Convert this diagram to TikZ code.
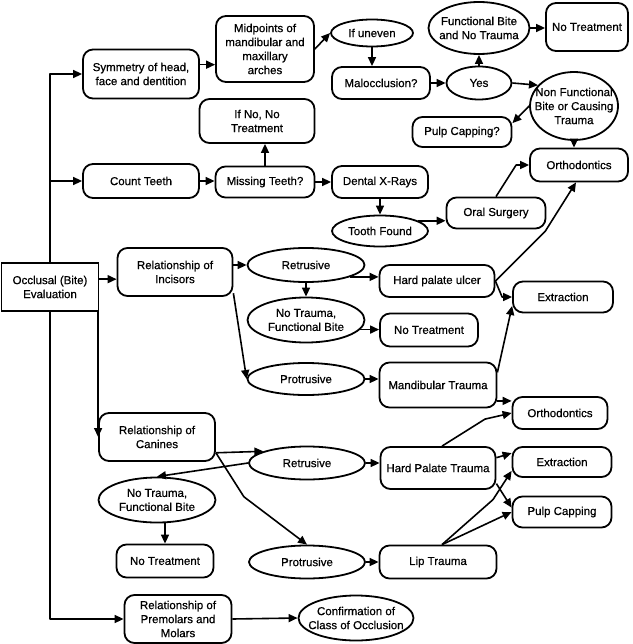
\documentclass[tikz,border=0pt]{standalone}
\usepackage{fontspec}
\setmainfont[FakeBold=0.6]{Liberation Sans}
\usetikzlibrary{arrows.meta,shapes.geometric}
\begin{document}
\begin{tikzpicture}[x=1pt,y=-1pt,
		box/.style={draw,line width=1.8pt,rounded corners=10pt,align=center,inner sep=0pt,font=\fontsize{11.5}{14}\selectfont},
		sq/.style={box,sharp corners},
		oval/.style={draw,ellipse,line width=1.8pt,align=center,inner xsep=-10pt,inner ysep=0pt,font=\fontsize{11.5}{14}\selectfont},
		dims/.style 2 args={minimum width=#1pt,minimum height=#2pt},
		conn/.style={line width=1.6pt,line join=round,-{Triangle[length=9pt,width=8pt]}}]
		\useasboundingbox (0,0) rectangle (632,644);

		\node[sq,dims={97}{48}] (main) at (50,287) {Occlusal (Bite)\\Evaluation};
		\node[box,dims={116}{49}] (sym) at (141,74) {Symmetry of head,\\face and dentition};
		\node[box,dims={98}{66}] (mid) at (265,49) {Midpoints of\\mandibular and\\maxillary\\arches};
		\node[oval,dims={82}{27}] (uneven) at (372,33) {If uneven};
		\node[box,dims={98}{32}] (maloc) at (381,83) {Malocclusion?};
		\node[oval,dims={65}{33}] (yes) at (479,83) {Yes};
		\node[oval,dims={101}{52}] (funct) at (479,28) {Functional Bite\\and No Trauma};
		\node[box,dims={82}{48}] (notreatA) at (587,27) {No Treatment};
		\node[oval,dims={88}{68}] (nonfunc) at (574,106) {Non Functional\\Bite or Causing\\Trauma};
		\node[box,dims={99}{30}] (pulpq) at (462,132) {Pulp Capping?};
		\node[box,dims={98}{33}] (orthoA) at (579,165) {Orthodontics};
		\node[box,dims={115}{44}] (ifno) at (257,121) {If No, No\\Treatment};
		\node[box,dims={116}{34}] (count) at (141,181) {Count Teeth};
		\node[box,dims={99}{31}] (missing) at (265,182) {Missing Teeth?};
		\node[box,dims={96}{32}] (xray) at (380,182) {Dental X-Rays};
		\node[oval,dims={96}{31}] (tooth) at (380,231) {Tooth Found};
		\node[box,dims={99}{31}] (oral) at (496,213) {Oral Surgery};

		\node[box,dims={115}{48}] (incis) at (175,272) {Relationship of\\Incisors};
		\node[oval,dims={117}{34}] (retA) at (306,265) {Retrusive};
		\node[box,dims={115}{32}] (ulcer) at (437,281) {Hard palate ulcer};
		\node[oval,dims={117}{45}] (notraumaA) at (306,320) {No Trauma,\\Functional Bite};
		\node[box,dims={98}{33}] (notreatB) at (429,330) {No Treatment};
		\node[box,dims={100}{31}] (extrA) at (563,297) {Extraction};
		\node[oval,dims={117}{32}] (protA) at (306,379) {Protrusive};
		\node[box,dims={117}{45}] (mandib) at (438,385) {Mandibular Trauma};
		\node[box,dims={95}{32}] (orthoB) at (560,413) {Orthodontics};

		\node[box,dims={116}{48}] (canin) at (157,437) {Relationship of\\Canines};
		\node[oval,dims={116}{33}] (retB) at (307,463) {Retrusive};
		\node[box,dims={115}{42}] (hpt) at (438,468) {Hard Palate Trauma};
		\node[box,dims={99}{30}] (extrB) at (562,462) {Extraction};
		\node[box,dims={99}{31}] (pulp) at (562,512) {Pulp Capping};
		\node[oval,dims={117}{45}] (notraumaB) at (157,500) {No Trauma,\\Functional Bite};
		\node[box,dims={97}{33}] (notreatC) at (165,561) {No Treatment};
		\node[oval,dims={116}{33}] (protB) at (307,562) {Protrusive};
		\node[box,dims={117}{33}] (lip) at (438,562) {Lip Trauma};
		\node[box,dims={107}{48}] (premol) at (178,619) {Relationship of\\Premolars and\\Molars};
		\node[oval,dims={115}{45}] (confirm) at (356,618) {Confirmation of\\Class of Occlusion};

		\draw[conn] (main.north) |- (sym.west);
		\draw[conn] (main.north |- count.west) -- (count.west);
		\draw[conn] (main.south) |- (premol.west);
		\draw[conn] (main.9) -- (main.9 -| incis.west);
		\draw[conn] (canin.west |- main.south) -- (canin.west);

		\draw[conn] (sym.9) -- (sym.9 -| mid.west);
		\draw[conn] (mid.east) -- (uneven.west);
		\draw[conn] (uneven.south) -- (uneven.south |- maloc.north);
		\draw[conn] (maloc.east) -- (yes.west);
		\draw[conn] (yes.north) -- (funct.south);
		\draw[conn] (funct.east) -- (funct.east -| notreatA.west);
		\draw[conn] (yes.east) -- (nonfunc.150);
		\draw[conn] (nonfunc.west) -- (pulpq.10);
		\draw[conn] (nonfunc.south) -- (nonfunc.south |- orthoA.north);

		\draw[conn] (count.east) -- (count.east -| missing.west);
		\draw[conn] (missing.north) -- (missing.north |- ifno.south);
		\draw[conn] (missing.east) -- (missing.east -| xray.west);
		\draw[conn] (xray.south) -- (tooth.north);
		\draw[conn] (tooth.15) -- (tooth.15 -| oral.west);
		\draw[conn] (oral.north) -- ([xshift=-13pt]orthoA.west) -- (orthoA.west);

		\draw[conn] (incis.east |- retA.west) -- (retA.west);
		\draw[conn] (retA.-15) -- (retA.-15 -| ulcer.west);
		\draw[conn] (retA.south) -- (notraumaA.north);
		\draw[conn] (notraumaA.-10) -- (notraumaA.-10 -| notreatB.west);
		\draw[conn] (incis.-20) -- (protA.west);
		\draw[conn] (protA.east) -- (protA.east -| mandib.west);
		\draw[conn] (ulcer.east) -- ++(50,-50) -- ([xshift=-3pt]orthoA.south);
		\draw[conn] (ulcer.east) -- ([xshift=-10pt]extrA.west) -- (extrA.west);
		\draw[conn] (mandib.12) -- (extrA.190);
		\draw[conn] (mandib.-15) -- (mandib.-15 -| orthoB.west);

		\draw[conn] (canin.-15) -- (retB.165);
		\draw[conn] (canin.-15) -- ++(28,44) -- (protB.north);
		\draw[conn] (retB.east) -- (retB.east -| hpt.west);
		\draw[conn] (retB.west) -- (notraumaB.north);
		\draw[conn] (notraumaB.south -| notreatC.north) -- (notreatC.north);
		\draw[conn] (protB.east) -- (protB.east -| lip.west);
		\draw[conn] ([xshift=4pt]hpt.north) -- ++(43,-27) -- (orthoB.west);
		\draw[conn] (hpt.10) -- (extrB.170);
		\draw[conn] (hpt.-15) -- (pulp.175);
		\draw[conn] ([xshift=4pt]lip.north) -- ++(51,-45) -- (extrB.190);
		\draw[conn] ([xshift=4pt]lip.north) -- (pulp.west);
		\draw[conn] (premol.east) -- (confirm.west);

		\end{tikzpicture}
\end{document}
